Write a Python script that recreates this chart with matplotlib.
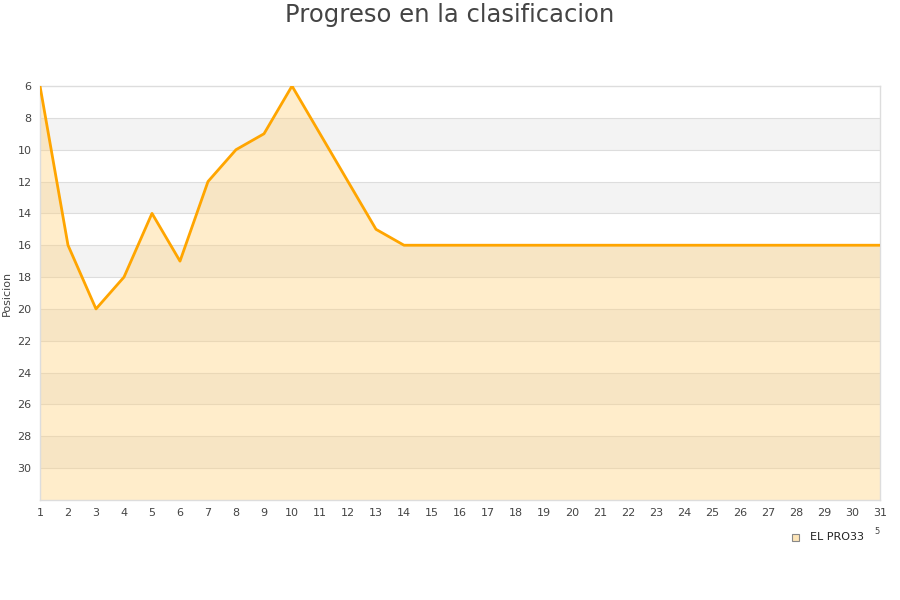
import matplotlib
matplotlib.use("Agg")
import matplotlib.pyplot as plt
from matplotlib.patches import Rectangle

jornadas = list(range(1, 32))
posiciones = [6, 16, 20, 18, 14, 17, 12, 10, 9, 6, 9, 12, 15, 16] + [16] * 17
y_ticks = list(range(6, 31, 2))
serie = "EL PRO33"

fig = plt.figure(figsize=(9, 6), dpi=100)
ax = fig.add_axes([40/900, 1 - 500/600, 840/900, 414/600])
ax.set_xlim(1, 31)
ax.set_ylim(32, 6)

# alternating bands
for i, y0 in enumerate(range(6, 32, 2)):
    if i % 2 == 1:
        ax.axhspan(y0, y0 + 2, color="#f3f3f3", zorder=0, lw=0)
for y in range(8, 32, 2):
    ax.axhline(y, color="#dddddd", lw=0.8, zorder=1)

ax.fill_between(jornadas, posiciones, 32, color="#ffd27f", alpha=0.4, lw=0, zorder=2)
ax.plot(jornadas, posiciones, color="#ffa500", lw=2.0, zorder=3)

ax.set_xticks(jornadas)
ax.set_yticks(y_ticks)
ax.tick_params(axis="both", length=0, labelsize=8, colors="#444444", pad=6)
for s in ax.spines.values():
    s.set_color("#dddddd")
    s.set_linewidth(1)
ax.set_ylabel("Posicion", fontsize=8, color="#444444", labelpad=4)

fig.text(0.5, 1 - 15/600, "Progreso en la clasificacion", ha="center", va="center",
         fontsize=17.5, color="#444444")

# legend
fig.patches.append(Rectangle((792/900, 1 - 541/600), 7/900, 7/600, transform=fig.transFigure,
                             facecolor="#fde5b8", edgecolor="#888888", lw=0.8))
fig.text(810/900, 1 - 537/600, serie, fontsize=8, color="#222222", va="center")
fig.text(874/900, 1 - 532/600, "5", fontsize=6, color="#444444", va="center")

fig.savefig("out.png", dpi=100)
